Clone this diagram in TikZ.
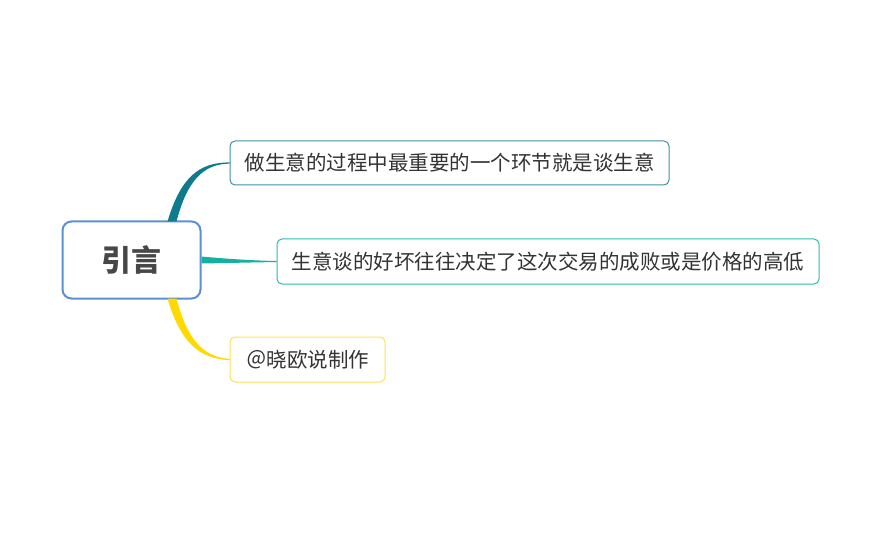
\documentclass[tikz,border=0pt]{standalone}
\usepackage{fontspec}
\setmainfont{Noto Sans CJK SC}
\newfontfamily\cjk{Noto Sans CJK SC}
\definecolor{rootblue}{HTML}{5B8FD6}
\definecolor{textgray}{HTML}{333333}
\definecolor{rootgray}{HTML}{474747}
\definecolor{tealdark}{HTML}{0F7B8E}
\definecolor{tealline}{HTML}{3A93A5}
\definecolor{greenteal}{HTML}{16AFA1}
\definecolor{greenline}{HTML}{2DBBAD}
\definecolor{yellowbr}{HTML}{FFD900}
\definecolor{yellowline}{HTML}{FFE24F}
\usepackage{tikz}
\usetikzlibrary{positioning,calc}

\tikzset{
  topicbox/.style={draw, rounded corners=5pt, line width=1pt, fill=white,
    text=textgray, inner sep=0pt, minimum height=45pt,
    font=\cjk\fontsize{20.5}{24}\selectfont},
}

\begin{document}
\begin{tikzpicture}[x=1pt, y=-1pt]
  \useasboundingbox (0,0) rectangle (870,540);

  % Root
  \node[draw=rootblue, line width=2pt, rounded corners=9pt, fill=white,
    minimum width=138pt, minimum height=77pt, text=rootgray,
    font=\cjk\bfseries\fontsize{30}{34}\selectfont] (root) at (131.5,260) {引言};

  % Topics
  \node[topicbox, draw=tealline, minimum width=439pt, minimum height=44pt] (t1) at (449.5,163) {做生意的过程中最重要的一个环节就是谈生意};
  \node[topicbox, draw=greenline, minimum width=542pt] (t2) at (548,261.5) {生意谈的好坏往往决定了这次交易的成败或是价格的高低};
  \node[topicbox, draw=yellowline, minimum width=155pt] (t3) at (307.5,359.5) {＠晓欧说制作};

  % Connectors (tapered)
  \fill[tealdark] ($(root.north)+(36,1)$) .. controls (181,176) and (200,162.4) .. ($(t1.west)+(0,-0.6)$)
    -- ($(t1.west)+(0,0.6)$) .. controls (203,164) and (187,181) .. ($(root.north)+(45,1)$) -- cycle;
  \fill[greenteal] ($(root.east)+(0,-3.5)$) .. controls (228,259) and (255,260.6) .. ($(t2.west)+(0,-0.5)$)
    -- ($(t2.west)+(0,0.5)$) .. controls (255,262.4) and (228,263) .. ($(root.east)+(0,3.5)$) -- cycle;
  \fill[yellowbr] ($(root.south)+(36,-1)$) .. controls (181,344) and (200,358.6) .. ($(t3.west)+(0,0.6)$)
    -- ($(t3.west)+(0,-0.6)$) .. controls (203,357) and (187,339) .. ($(root.south)+(45,-1)$) -- cycle;
\end{tikzpicture}
\end{document}
